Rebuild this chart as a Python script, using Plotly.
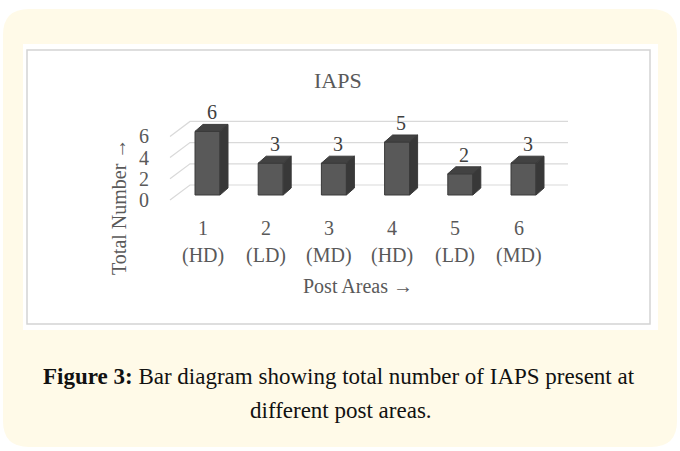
import plotly.graph_objects as go

# ---- data ----
areas = ["1", "2", "3", "4", "5", "6"]
density = ["(HD)", "(LD)", "(MD)", "(HD)", "(LD)", "(MD)"]
counts = [6, 3, 3, 5, 2, 3]
y_ticks = [0, 2, 4, 6]
chart_title = "IAPS"
y_title = "Total Number →"
x_title = "Post Areas →"
caption_1 = "<b>Figure 3:</b> Bar diagram showing total number of IAPS present at"
caption_2 = "different post areas."

W, H = 680, 451
# pixel mapping of the plot (styling)
PX0, PXSTEP = 207.5, 63.2      # pixel of category 0 centre, px per category
PY0, PYUNIT = 195.0, 10.6       # pixel of value 0 (front), px per unit
xr = [(0 - PX0) / PXSTEP, (W - PX0) / PXSTEP]
yr = [(PY0 - H) / PYUNIT, (PY0 - 0) / PYUNIT]

def dx(px):  # pixel distance -> x data distance
    return px / PXSTEP
def dy(px):
    return px / PYUNIT
def fx(px):
    return px / W
def fy(py):
    return 1 - py / H

BAR_W = dx(25)
DEP_X, DEP_Y = dx(8), dy(7)
WALL_UP = dy(10)        # back wall zero above front zero
DIAG_FRONT_X = dx(170 - PX0)
DIAG_BACK_X = dx(190 - PX0)
GRID_END_X = dx(568 - PX0)

FRONT = "#595959"
TOP = "#424242"
SIDE = "#383838"
EDGE = "#3a3a3a"
GRID = "#d9d9d9"
TXT = "#595959"
SERIF = "Liberation Serif, Times New Roman, serif"

fig = go.Figure()

xs = list(range(len(counts)))
# front faces
fig.add_trace(go.Bar(x=xs, y=counts, width=BAR_W,
                     marker=dict(color=FRONT, line=dict(color=EDGE, width=1)),
                     showlegend=False, hoverinfo="skip"))
# top and side faces
for i, v in zip(xs, counts):
    x0, x1 = i - BAR_W / 2, i + BAR_W / 2
    fig.add_trace(go.Scatter(
        x=[x0, x0 + DEP_X, x1 + DEP_X, x1, x0],
        y=[v, v + DEP_Y, v + DEP_Y, v, v],
        fill="toself", fillcolor=TOP, mode="lines", line=dict(color=EDGE, width=1),
        hoverinfo="skip", showlegend=False))
    fig.add_trace(go.Scatter(
        x=[x1, x1 + DEP_X, x1 + DEP_X, x1, x1],
        y=[0, DEP_Y, v + DEP_Y, v, 0],
        fill="toself", fillcolor=SIDE, mode="lines", line=dict(color=EDGE, width=1),
        hoverinfo="skip", showlegend=False))

ann = []
def A(**kw):
    kw.setdefault("showarrow", False)
    kw.setdefault("xanchor", "center")
    kw.setdefault("yanchor", "middle")
    ann.append(kw)

# value labels
for i, v in zip(xs, counts):
    A(x=i + DEP_X / 2, y=v, xref="x", yref="y", text=str(v), yshift=19,
      font=dict(family=SERIF, size=20, color="#404040"))
# y tick labels
for t in y_ticks:
    A(x=dx(151 - PX0), y=t - dy(5), xref="x", yref="y", text=str(t), xanchor="right",
      font=dict(family=SERIF, size=20, color=TXT))
# x tick labels
for i, (a, d) in enumerate(zip(areas, density)):
    A(x=i - dx(5), y=fy(228), xref="x", yref="paper", text=a,
      font=dict(family=SERIF, size=20, color=TXT))
    A(x=i - dx(5), y=fy(255), xref="x", yref="paper", text=d,
      font=dict(family=SERIF, size=20, color=TXT))
# titles
A(x=fx(338), y=fy(80), xref="paper", yref="paper", text=chart_title,
  font=dict(family=SERIF, size=22, color=TXT))
A(x=fx(358), y=fy(286), xref="paper", yref="paper", text=x_title,
  font=dict(family=SERIF, size=20, color=TXT))
A(x=fx(119), y=fy(207), xref="paper", yref="paper", text=y_title, textangle=-90,
  font=dict(family=SERIF, size=20, color=TXT))
# caption
A(x=fx(339), y=fy(376), xref="paper", yref="paper", text=caption_1,
  font=dict(family=SERIF, size=23, color="#111111"))
A(x=fx(341), y=fy(410), xref="paper", yref="paper", text=caption_2,
  font=dict(family=SERIF, size=23, color="#111111"))

# background shapes
def rounded(x0, y0, x1, y1, r):
    X0, X1 = fx(x0), fx(x1)
    Y0, Y1 = fy(y0), fy(y1)
    rx, ry = r / W, r / H
    return (f"M {X0+rx} {Y0} L {X1-rx} {Y0} Q {X1} {Y0} {X1} {Y0-ry} "
            f"L {X1} {Y1+ry} Q {X1} {Y1} {X1-rx} {Y1} L {X0+rx} {Y1} "
            f"Q {X0} {Y1} {X0} {Y1+ry} L {X0} {Y0-ry} Q {X0} {Y0} {X0+rx} {Y0} Z")

shapes = [
    dict(type="path", xref="paper", yref="paper", path=rounded(3, 9, 677, 447, 26),
         fillcolor="#FFFAE8", line=dict(width=0), layer="below"),
    dict(type="rect", xref="paper", yref="paper", x0=fx(23), x1=fx(658), y0=fy(44), y1=fy(330),
         fillcolor="#FFFFFF", line=dict(width=0), layer="below"),
    dict(type="rect", xref="paper", yref="paper", x0=fx(27), x1=fx(650), y0=fy(50), y1=fy(324),
         fillcolor="rgba(0,0,0,0)", line=dict(color="#d4d4d4", width=1.5), layer="below"),
]
# gridlines (diagonal side wall + back wall), below the bars
for t in y_ticks:
    shapes.append(dict(type="path", xref="x", yref="y", layer="below",
                       path=(f"M {DIAG_FRONT_X} {t + WALL_UP - dy(15)} "
                             f"L {DIAG_BACK_X} {t + WALL_UP} L {GRID_END_X} {t + WALL_UP}"),
                       line=dict(color=GRID, width=1.2)))

fig.update_layout(
    width=W, height=H, margin=dict(l=0, r=0, t=0, b=0),
    paper_bgcolor="#FFFFFF", plot_bgcolor="rgba(0,0,0,0)",
    xaxis=dict(range=xr, visible=False, fixedrange=True),
    yaxis=dict(range=yr, visible=False, fixedrange=True),
    shapes=shapes, annotations=ann, bargap=0, showlegend=False,
)

fig.write_html("out.html", config={"displayModeBar": False, "staticPlot": True},
               post_script="document.body.style.margin='0px';document.body.style.overflow='hidden';")
